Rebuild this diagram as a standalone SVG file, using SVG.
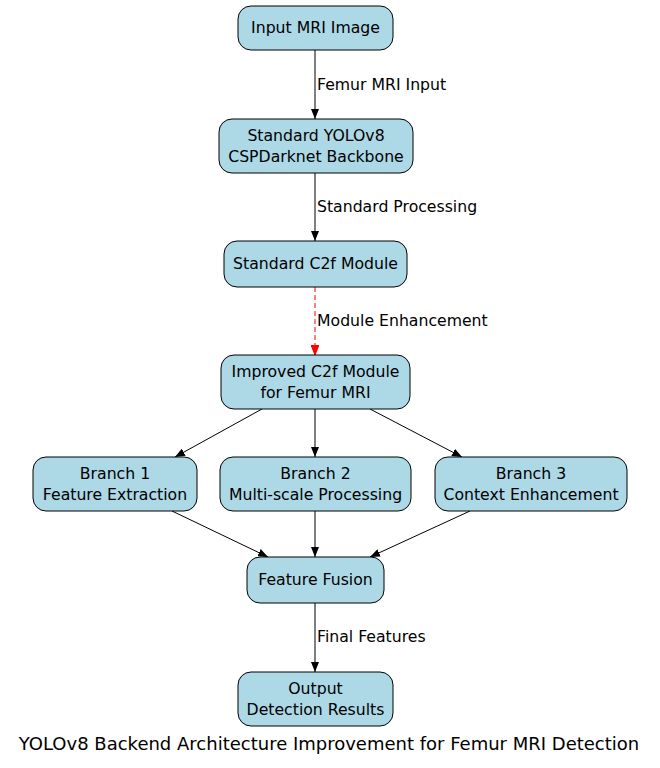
<svg xmlns="http://www.w3.org/2000/svg" width="660" height="768" viewBox="0 0 660 768">
<style>
.n{fill:#add8e6;stroke:#000;stroke-width:1}
text{font-family:"DejaVu Sans",sans-serif;font-size:15.7px;fill:#000}
.c{text-anchor:middle}
.e{stroke:#000;stroke-width:1;fill:none}
</style>
<defs>
<marker id="a" markerWidth="10" markerHeight="8" refX="10" refY="4" orient="auto" markerUnits="userSpaceOnUse"><path d="M0,0L10,4L0,8z" fill="#000"/></marker>
<marker id="r" markerWidth="10" markerHeight="8" refX="10" refY="4" orient="auto" markerUnits="userSpaceOnUse"><path d="M0,0L10,4L0,8z" fill="#f00" stroke="#f00"/></marker>
</defs>
<rect width="660" height="768" fill="#fff"/>
<g id="connectors">
<path class="e" d="M315,50V119" marker-end="url(#a)"/>
<text x="317" y="90">Femur MRI Input</text>
<path class="e" d="M315,173V241" marker-end="url(#a)"/>
<text x="317" y="212">Standard Processing</text>
<path d="M315,287V355" stroke="#f00" stroke-dasharray="5,3" fill="none" marker-end="url(#r)"/>
<text x="317" y="326">Module Enhancement</text>
<path class="e" d="M262,409L175,457" marker-end="url(#a)"/>
<path class="e" d="M315,409V457" marker-end="url(#a)"/>
<path class="e" d="M370,409L462,457" marker-end="url(#a)"/>
<path class="e" d="M172,511L268,557" marker-end="url(#a)"/>
<path class="e" d="M315,511V557" marker-end="url(#a)"/>
<path class="e" d="M470,511L370,557" marker-end="url(#a)"/>
<path class="e" d="M315,603V672" marker-end="url(#a)"/>
<text x="317" y="642">Final Features</text>
</g>
<g id="input"><rect class="n" x="238" y="6" width="155" height="44" rx="13"/><text class="c" x="315.5" y="33">Input MRI Image</text></g>
<g id="backbone"><rect class="n" x="219" y="119" width="194" height="54" rx="13"/><text class="c" x="316" y="141">Standard YOLOv8</text><text class="c" x="316" y="162">CSPDarknet Backbone</text></g>
<g id="c2f"><rect class="n" x="224" y="241" width="183" height="46" rx="13"/><text class="c" x="315.5" y="269">Standard C2f Module</text></g>
<g id="improved"><rect class="n" x="221" y="355" width="189" height="54" rx="13"/><text class="c" x="315.5" y="377">Improved C2f Module</text><text class="c" x="315.5" y="398">for Femur MRI</text></g>
<g id="b1"><rect class="n" x="33" y="457" width="164" height="54" rx="13"/><text class="c" x="115" y="479">Branch 1</text><text class="c" x="115" y="500">Feature Extraction</text></g>
<g id="b2"><rect class="n" x="220" y="457" width="191" height="54" rx="13"/><text class="c" x="315.5" y="479">Branch 2</text><text class="c" x="315.5" y="500">Multi-scale Processing</text></g>
<g id="b3"><rect class="n" x="435" y="457" width="192" height="54" rx="13"/><text class="c" x="531" y="479">Branch 3</text><text class="c" x="531" y="500">Context Enhancement</text></g>
<g id="fusion"><rect class="n" x="247" y="557" width="137" height="46" rx="13"/><text class="c" x="315.5" y="585">Feature Fusion</text></g>
<g id="output"><rect class="n" x="238" y="672" width="155" height="54" rx="13"/><text class="c" x="315.5" y="694">Output</text><text class="c" x="315.5" y="715">Detection Results</text></g>
<text class="c" x="329" y="750" style="font-size:18px">YOLOv8 Backend Architecture Improvement for Femur MRI Detection</text>
</svg>
